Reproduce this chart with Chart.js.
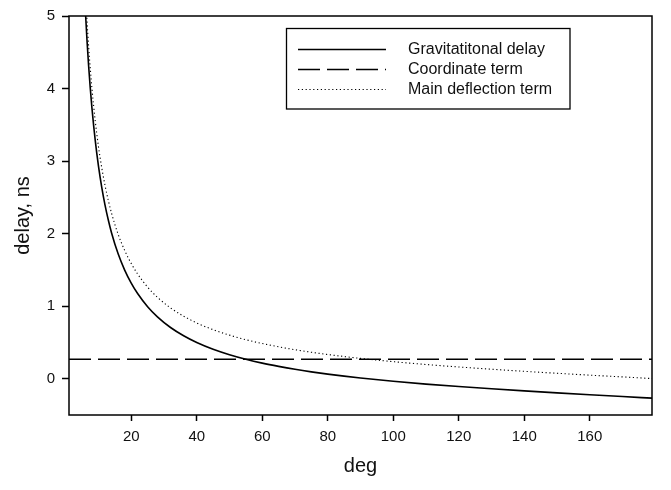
<!DOCTYPE html>
<html>
<head>
<meta charset="utf-8">
<script src="https://cdn.jsdelivr.net/npm/chart.js@4.4.1/dist/chart.umd.min.js"></script>
<style>
  html, body { margin: 0; padding: 0; background: #fff; }
  canvas { display: block; }
</style>
</head>
<body>
<canvas id="c" width="671" height="490"></canvas>
<script>
// ---- data ----
const degrees = [6, 6.5, 7, 7.5, 8, 9, 10, 11, 12, 13, 14, 16, 18, 20, 22, 25, 28, 32, 36, 40, 45, 50, 55, 60, 65, 70, 75, 80, 85, 90, 100, 110, 120, 130, 140, 150, 160, 170, 179];
const gravitationalDelay = [5.073, 4.661, 4.308, 4.002, 3.734, 3.288, 2.930, 2.638, 2.394, 2.188, 2.010, 1.722, 1.498, 1.318, 1.171, 0.993, 0.853, 0.706, 0.592, 0.499, 0.406, 0.331, 0.268, 0.215, 0.170, 0.130, 0.095, 0.064, 0.036, 0.010, -0.035, -0.074, -0.108, -0.139, -0.168, -0.195, -0.221, -0.246, -0.268];
const mainDeflection = [5.343, 4.931, 4.578, 4.272, 4.004, 3.558, 3.200, 2.908, 2.664, 2.458, 2.280, 1.992, 1.768, 1.588, 1.441, 1.263, 1.123, 0.976, 0.862, 0.769, 0.676, 0.601, 0.538, 0.485, 0.440, 0.400, 0.365, 0.334, 0.306, 0.280, 0.235, 0.196, 0.162, 0.131, 0.102, 0.075, 0.049, 0.025, 0.002];
const coordinateDeg = [1, 179];
const coordinateTerm = [0.27, 0.27];
const seriesLabels = ['Gravitatitonal delay', 'Coordinate term', 'Main deflection term'];
const xTicks = [20, 40, 60, 80, 100, 120, 140, 160];
const yTicks = [0, 1, 2, 3, 4, 5];

const toPts = (xs, ys) => xs.map((x, i) => ({ x: x, y: ys[i] }));
const FONT = '"Liberation Sans", Arial, sans-serif';

const frameAndLegend = {
  id: 'frameAndLegend',
  afterDatasetsDraw(chart) {
    const ctx = chart.ctx;
    const a = chart.chartArea;
    ctx.save();
    ctx.strokeStyle = '#000';
    ctx.lineWidth = 1.5;
    ctx.setLineDash([]);
    ctx.strokeRect(a.left, a.top, a.right - a.left, a.bottom - a.top);

    // legend box
    const bx = 286.5, by = 28.5, bw = 283.5, bh = 80.5;
    ctx.fillStyle = '#fff';
    ctx.fillRect(bx, by, bw, bh);
    ctx.lineWidth = 1.3;
    ctx.strokeRect(bx, by, bw, bh);
    const rows = [49.5, 69.5, 89.5];
    chart.data.datasets.forEach((ds, i) => {
      const y = rows[i];
      ctx.beginPath();
      ctx.setLineDash(ds.borderDash || []);
      ctx.lineWidth = ds.borderWidth;
      ctx.strokeStyle = '#000';
      ctx.moveTo(298, y);
      ctx.lineTo(386, y);
      ctx.stroke();
      ctx.setLineDash([]);
      ctx.fillStyle = '#111';
      ctx.font = '16px ' + FONT;
      ctx.textBaseline = 'middle';
      ctx.textAlign = 'left';
      ctx.fillText(ds.label, 408, y);
    });
    ctx.restore();
  }
};

new Chart(document.getElementById('c'), {
  type: 'scatter',
  data: {
    datasets: [
      {
        label: seriesLabels[0],
        data: toPts(degrees, gravitationalDelay),
        showLine: true, borderColor: '#000', borderWidth: 1.6,
        pointRadius: 0, cubicInterpolationMode: 'monotone', fill: false
      },
      {
        label: seriesLabels[1],
        data: toPts(coordinateDeg, coordinateTerm),
        showLine: true, borderColor: '#000', borderWidth: 1.5, borderDash: [22, 7],
        pointRadius: 0, fill: false
      },
      {
        label: seriesLabels[2],
        data: toPts(degrees, mainDeflection),
        showLine: true, borderColor: '#000', borderWidth: 1.1, borderDash: [1.2, 2.6],
        pointRadius: 0, cubicInterpolationMode: 'monotone', fill: false
      }
    ]
  },
  options: {
    responsive: false,
    animation: false,
    devicePixelRatio: 1,
    layout: { padding: { top: 5, right: 19, left: 0, bottom: 0 } },
    plugins: { legend: { display: false }, tooltip: { enabled: false } },
    scales: {
      x: {
        type: 'linear', min: 1, max: 179,
        afterFit(s) { s.height = 75; },
        afterBuildTicks(s) { s.ticks = xTicks.map(v => ({ value: v })); },
        grid: { display: true, drawOnChartArea: false, drawTicks: true, tickLength: 6, tickWidth: 1.5, tickColor: '#000', color: '#000' },
        border: { display: false },
        ticks: { color: '#111', font: { family: FONT, size: 15 }, padding: 7, maxRotation: 0 },
        title: { display: true, text: 'deg', color: '#111', font: { family: FONT, size: 20 }, padding: { top: 0, bottom: 12 } }
      },
      y: {
        type: 'linear', min: -0.5, max: 5,
        afterFit(s) { s.width = 69; },
        afterBuildTicks(s) { s.ticks = yTicks.map(v => ({ value: v })); },
        grid: { display: true, drawOnChartArea: false, drawTicks: true, tickLength: 7, tickWidth: 1.5, tickColor: '#000', color: '#000' },
        border: { display: false },
        ticks: { color: '#111', font: { family: FONT, size: 15 }, padding: 7 },
        title: { display: true, text: 'delay, ns', color: '#111', font: { family: FONT, size: 20 }, padding: { top: 11, bottom: 0 } }
      }
    }
  },
  plugins: [frameAndLegend]
});
</script>
</body>
</html>
